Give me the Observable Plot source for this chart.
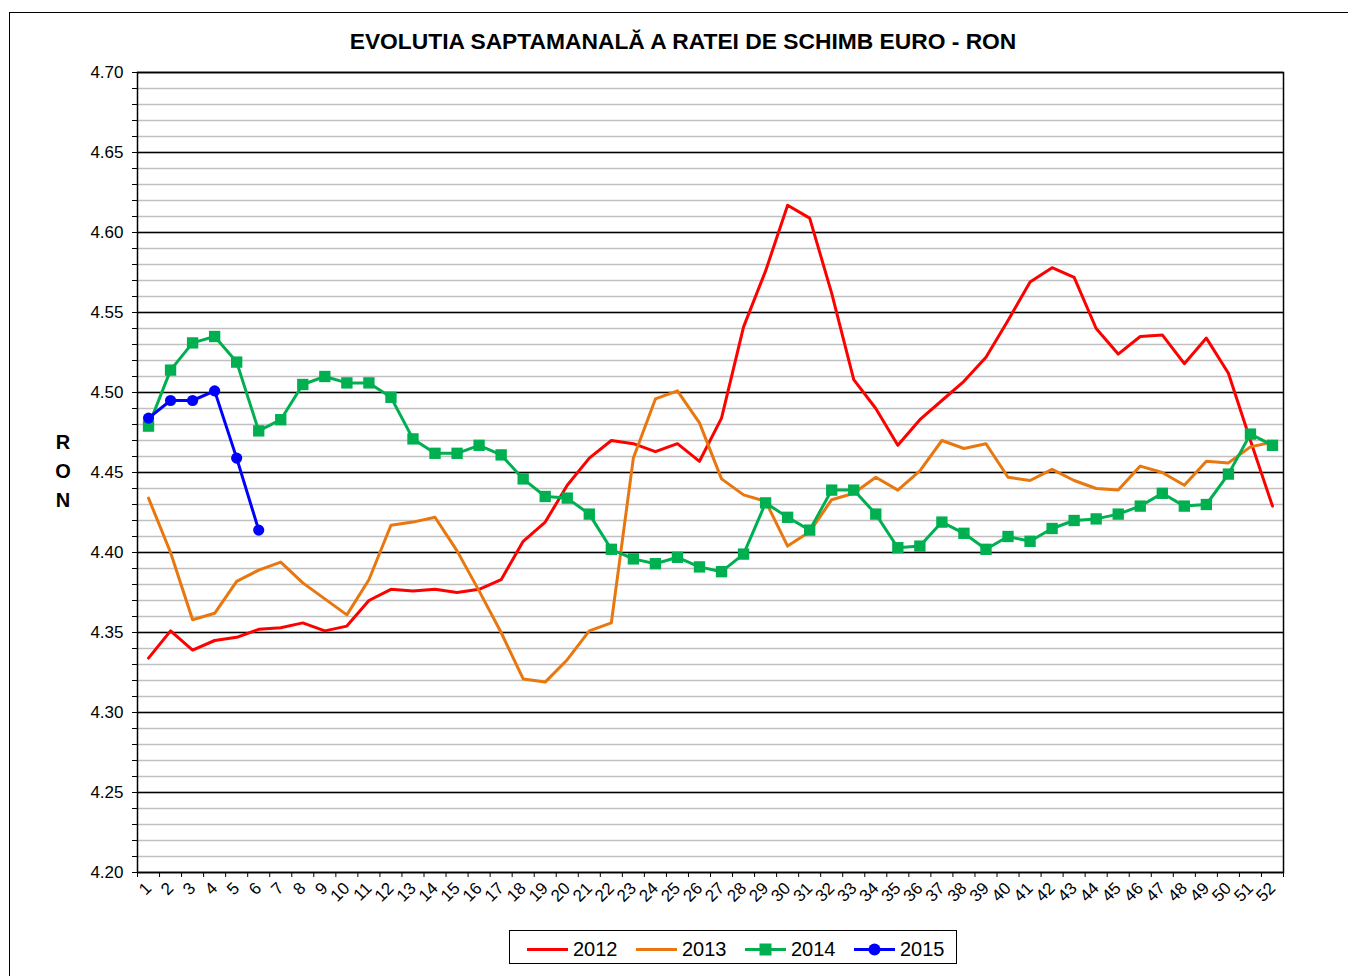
<!DOCTYPE html>
<html>
<head>
<meta charset="utf-8">
<script src="https://cdn.jsdelivr.net/npm/d3@7"></script>
<script src="https://cdn.jsdelivr.net/npm/@observablehq/plot@0.6"></script>
<style>
  html, body { margin: 0; padding: 0; background: #fff; }
  body { width: 1348px; height: 976px; position: relative; overflow: hidden; font-family: "Liberation Sans", Arial, sans-serif; }
  #frame { position: absolute; left: 9px; top: 12px; width: 1400px; height: 1000px; border: 1.5px solid #000; box-sizing: border-box; }
  #title { position: absolute; left: 0; width: 1366px; top: 28px; text-align: center; font-weight: bold; font-size: 22.8px; color: #000; }
  #chart { position: absolute; left: 0; top: 0; }
  #chart svg text { font-size: 17px !important; font-family: "Liberation Sans", Arial, sans-serif !important; }
  #ylab { position: absolute; left: 53px; top: 428px; width: 20px; text-align: center; font-weight: bold; font-size: 20px; line-height: 29px; }
  #legend { position: absolute; left: 509px; top: 930px; width: 448px; height: 34px; border: 1.5px solid #000; box-sizing: border-box; font-size: 20px; }
  .item { position: absolute; top: 6px; display: flex; align-items: center; height: 24px; }
  .item svg { margin-right: 5px; }
</style>
</head>
<body>
<div id="frame"></div>
<div id="title">EVOLUTIA SAPTAMANALĂ A RATEI DE SCHIMB EURO - RON</div>
<div id="chart"></div>
<div id="ylab">R<br>O<br>N</div>
<div id="legend"></div>
<script>
const weeks = d3.range(1, 53);
const years = ["2012", "2013", "2014", "2015"];
const colors = ["#ff0000", "#e8770f", "#00b050", "#0000ff"];

const rate2012 = [4.334,4.351,4.339,4.345,4.347,4.352,4.353,4.356,4.351,4.354,
  4.370,4.377,4.376,4.377,4.375,4.377,4.383,4.407,4.419,4.442,
  4.459,4.470,4.468,4.463,4.468,4.457,4.484,4.541,4.576,4.617,
  4.609,4.562,4.508,4.490,4.467,4.483,4.495,4.507,4.522,4.545,
  4.569,4.578,4.572,4.540,4.524,4.535,4.536,4.518,4.534,4.512,
  4.470,4.429];
const rate2013 = [4.434,4.400,4.358,4.362,4.382,4.389,4.394,4.381,4.371,4.361,
  4.383,4.417,4.419,4.422,4.401,4.376,4.350,4.321,4.319,4.333,
  4.351,4.356,4.459,4.496,4.501,4.481,4.446,4.436,4.432,4.404,
  4.413,4.433,4.437,4.447,4.439,4.451,4.470,4.465,4.468,4.447,
  4.445,4.452,4.445,4.440,4.439,4.454,4.450,4.442,4.457,4.456,
  4.466,4.469];
const rate2014 = [4.479,4.514,4.531,4.535,4.519,4.476,4.483,4.505,4.510,4.506,
  4.506,4.497,4.471,4.462,4.462,4.467,4.461,4.446,4.435,4.434,
  4.424,4.402,4.396,4.393,4.397,4.391,4.388,4.399,4.431,4.422,
  4.414,4.439,4.439,4.424,4.403,4.404,4.419,4.412,4.402,4.410,
  4.407,4.415,4.420,4.421,4.424,4.429,4.437,4.429,4.430,4.449,
  4.474,4.467];
const rate2015 = [4.484,4.495,4.495,4.501,4.459,4.414];

const seriesValues = [rate2012, rate2013, rate2014, rate2015];
const rows = [];
seriesValues.forEach((vals, k) => vals.forEach((v, i) => rows.push({week: weeks[i], value: v, year: years[k]})));

const yTicks = d3.range(420, 471).map(d => d / 100);
const yMajor = yTicks.filter(d => Math.round(d * 100) % 5 === 0);
const xBounds = d3.range(0, 53).map(d => d + 0.5);

const chart = Plot.plot({
  width: 1348,
  height: 925,
  marginLeft: 137,
  marginRight: 65,
  marginTop: 72,
  marginBottom: 53,
  style: {fontFamily: "'Liberation Sans', Arial, sans-serif", fontSize: "17px", color: "#000", background: "transparent"},
  x: {type: "linear", domain: [0.5, 52.5], label: null},
  y: {domain: [4.2, 4.7], label: null},
  color: {domain: years, range: colors},
  marks: [
    Plot.ruleY(yTicks, {stroke: "#c0c0c0", strokeWidth: 1.4}),
    Plot.ruleY(yMajor, {stroke: "#000", strokeWidth: 1.3}),
    Plot.axisY(yTicks, {tickSize: 5, tickPadding: 9, tickFormat: d => (Math.round(d * 100) % 5 === 0 ? d3.format(".2f")(d) : ""), label: null}),
    Plot.axisX(xBounds, {tickSize: 5, tickFormat: () => "", label: null}),
    Plot.axisX(weeks, {tickSize: 0, tickPadding: 13, tickRotate: -45, tickFormat: d => String(d), label: null}),
    Plot.frame({stroke: "#000", strokeWidth: 1.5}),
    Plot.line(rows, {x: "week", y: "value", z: "year", stroke: "year", strokeWidth: 3}),
    Plot.dot(rows.filter(d => d.year === "2014"), {x: "week", y: "value", fill: "year", symbol: "square", r: 6.4}),
    Plot.dot(rows.filter(d => d.year === "2015"), {x: "week", y: "value", fill: "year", symbol: "circle", r: 5.6})
  ]
});
document.getElementById("chart").appendChild(chart);

const legend = document.getElementById("legend");
years.forEach((y, k) => {
  const item = document.createElement("div");
  item.className = "item";
  item.style.left = (17 + k * 109) + "px";
  let marker = "";
  if (y === "2014") marker = `<rect x="14.5" y="3.5" width="12" height="12" fill="${colors[k]}"/>`;
  if (y === "2015") marker = `<circle cx="20.5" cy="9.5" r="6" fill="${colors[k]}"/>`;
  item.innerHTML = `<svg width="41" height="19"><line x1="0" x2="41" y1="9.5" y2="9.5" stroke="${colors[k]}" stroke-width="3"/>${marker}</svg><span>${y}</span>`;
  legend.appendChild(item);
});
</script>
</body>
</html>
